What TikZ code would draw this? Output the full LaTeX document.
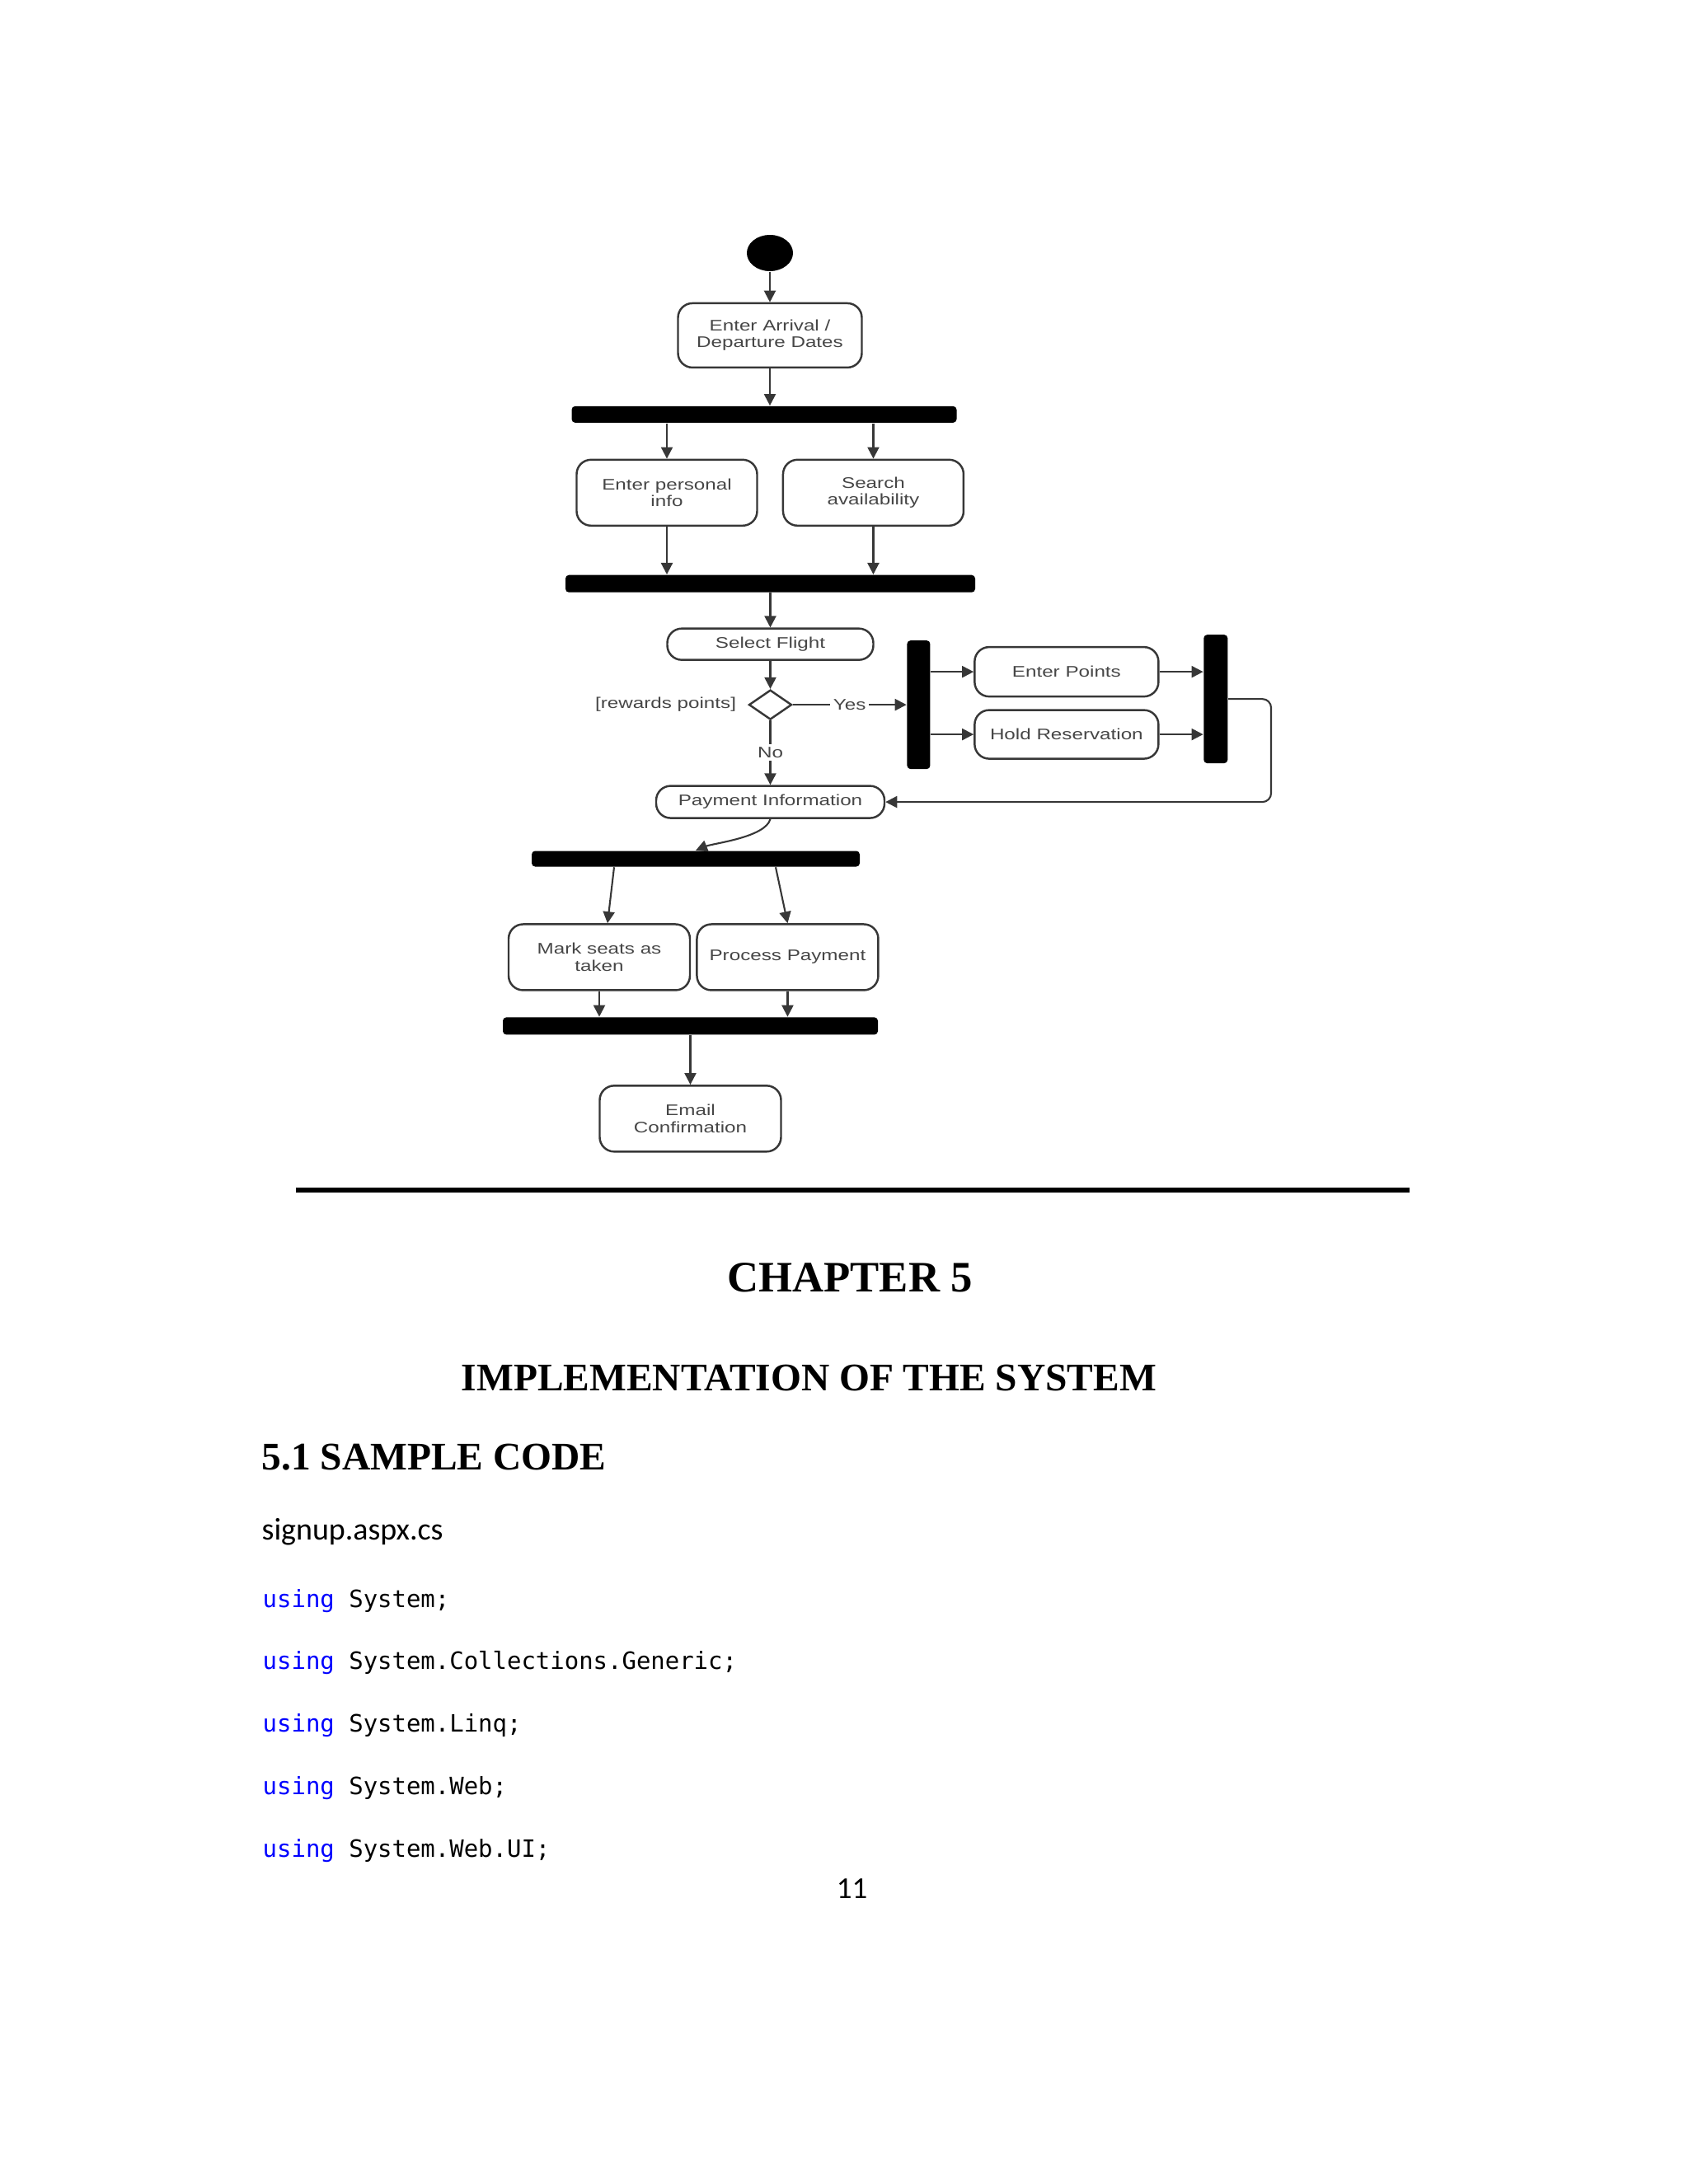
\documentclass[tikz,border=0pt]{standalone}
\usepackage{fontspec}
\setmainfont{Liberation Serif}
\newfontfamily\actfont[FakeStretch=1.3]{Liberation Sans}
\newfontfamily\bodyfont{Carlito}
\newfontfamily\codefont{DejaVu Sans Mono}
\usepackage{xcolor}
\definecolor{umlLine}{RGB}{55,55,55}
\definecolor{umlText}{RGB}{70,70,70}
\definecolor{kwBlue}{RGB}{0,0,255}
\usetikzlibrary{positioning,shapes.geometric,arrows.meta}
\tikzset{
  startdot/.style={ellipse,fill=black,minimum width=0.56cm,
    minimum height=0.44cm,inner sep=0pt},
  actbox/.style={rectangle,draw=umlLine,line width=0.7pt,rounded corners=5pt,
    align=center,minimum width=#1,minimum height=0.8cm,inner sep=1pt,
    text=umlText,font=\actfont\fontsize{5.3}{5.8}\selectfont},
  actbox/.default=2.2cm,
  syncbar/.style={rectangle,fill=black,rounded corners=1.2pt,inner sep=0pt},
  decision/.style={diamond,draw=umlLine,line width=0.7pt,aspect=1.45,
    minimum width=0.52cm,minimum height=0.36cm,inner sep=0pt},
  arrow/.style={-{Triangle[length=4pt,width=4pt]},draw=umlLine,line width=0.6pt},
  guard/.style={text=umlText,font=\actfont\fontsize{5.3}{5.8}\selectfont,inner sep=1pt},
  pagetxt/.style={inner sep=0pt,anchor=base west}
}

\begin{document}
\begin{tikzpicture}[node distance=0.4cm and 0.5cm]
  \useasboundingbox (0,0) rectangle (20.48,-26.5);
  % activity diagram
  \node[startdot] (start) at (9.34,-3.07) {};
  \node[actbox=2.23cm, minimum height=0.78cm, below=0.37cm of start] (arrive)
    {Enter Arrival /\\Departure Dates};
  \node[syncbar, minimum width=4.67cm, minimum height=0.2cm,
    below=0.45cm of arrive, xshift=-0.07cm] (bar1) {};
  \node[actbox=2.19cm, below=0.43cm of bar1, xshift=-1.18cm] (info)
    {Enter personal\\info};
  \node[actbox=2.19cm, right=0.29cm of info] (search)
    {Search\\availability};
  \node[syncbar, minimum width=4.97cm, minimum height=0.21cm,
    below=0.58cm of info, xshift=1.255cm] (bar2) {};
  \node[actbox=2.5cm, minimum height=0.38cm, below=0.42cm of bar2] (select)
    {Select Flight};
  \node[decision, below=0.34cm of select] (points?) {};
  \node[guard, left=0.1cm of points?] (rewards) {[rewards points]};
  \node[actbox=2.77cm, minimum height=0.39cm, below=0.78cm of points?] (payment)
    {Payment Information};
  \node[syncbar, minimum width=0.28cm, minimum height=1.56cm,
    right=1.38cm of points?] (bar3) {};
  \node[actbox=2.23cm, minimum height=0.6cm, right=0.52cm of bar3,
    yshift=0.4cm] (enterpts) {Enter Points};
  \node[actbox=2.23cm, minimum height=0.59cm, below=0.14cm of enterpts] (hold)
    {Hold Reservation};
  \node[syncbar, minimum width=0.29cm, minimum height=1.56cm,
    right=0.53cm of enterpts, yshift=-0.33cm] (bar4) {};
  \node[syncbar, minimum width=3.98cm, minimum height=0.19cm,
    below=0.38cm of payment, xshift=-0.905cm] (bar5) {};
  \node[actbox, below=0.68cm of bar5, xshift=-1.17cm] (mark)
    {Mark seats as\\taken};
  \node[actbox, right=0.06cm of mark] (process) {Process Payment};
  \node[syncbar, minimum width=4.55cm, minimum height=0.21cm,
    below=0.31cm of mark, xshift=1.105cm] (bar6) {};
  \node[actbox, below=0.6cm of bar6] (email) {Email\\Confirmation};

  \draw[arrow] (start) -- (arrive);
  \draw[arrow] (arrive) -- (arrive |- bar1.north);
  \draw[arrow] (info |- bar1.south) -- (info);
  \draw[arrow] (search |- bar1.south) -- (search);
  \draw[arrow] (info) -- (info |- bar2.north);
  \draw[arrow] (search) -- (search |- bar2.north);
  \draw[arrow] (bar2.south) -- (select);
  \draw[arrow] (select) -- (points?);
  \draw[arrow] (points?) -- node[guard,fill=white]{No} (payment);
  \draw[arrow] (points?) -- node[guard,fill=white]{Yes} (bar3);
  \draw[arrow] (bar3.east |- enterpts) -- (enterpts);
  \draw[arrow] (bar3.east |- hold) -- (hold);
  \draw[arrow] (enterpts) -- (enterpts -| bar4.west);
  \draw[arrow] (hold) -- (hold -| bar4.west);
  \draw[arrow, rounded corners=3pt] (bar4.east) -- ++(0.52,0) |- (payment.east);
  \draw[arrow] (payment.south) to[out=-105,in=22,looseness=0.6] (bar5.north);
  \draw[arrow] ([xshift=-0.99cm]bar5.south) -- ([xshift=0.1cm]mark.north);
  \draw[arrow] ([xshift=0.97cm]bar5.south) -- (process.north);
  \draw[arrow] (mark) -- (mark |- bar6.north);
  \draw[arrow] (process) -- (process |- bar6.north);
  \draw[arrow] (bar6) -- (email);

  % page text
  \draw[line width=1.7pt] (3.59,-14.44) -- (17.10,-14.44);
  \node[inner sep=0pt, anchor=base, font=\bfseries\fontsize{15}{18}\selectfont]
    (chapter) at (10.31,-15.67) {CHAPTER 5};
  \node[inner sep=0pt, anchor=base, font=\bfseries\fontsize{13.5}{16}\selectfont]
    (impl) at (9.815,-16.87) {IMPLEMENTATION OF THE SYSTEM};
  \node[pagetxt, font=\bfseries\fontsize{13.5}{16}\selectfont]
    (sample) at (3.17,-17.83) {5.1 SAMPLE CODE};
  \node[pagetxt, font=\bodyfont\fontsize{10.8}{13}\selectfont]
    (signup) at (3.17,-18.68) {signup.aspx.cs};
  \foreach \lib [count=\i] in {System, System.Collections.Generic, System.Linq,
      System.Web, System.Web.UI}
    \node[pagetxt, font=\codefont\fontsize{8.24}{10}\selectfont]
      (use\i) at (3.18,{-19.5-0.7575*(\i-1)}) {\textcolor{kwBlue}{using} \lib;};
  \node[inner sep=0pt, anchor=base, font=\bodyfont\fontsize{10.5}{12.6}\selectfont]
    (pageno) at (10.335,-23.03) {11};
\end{tikzpicture}
\end{document}
